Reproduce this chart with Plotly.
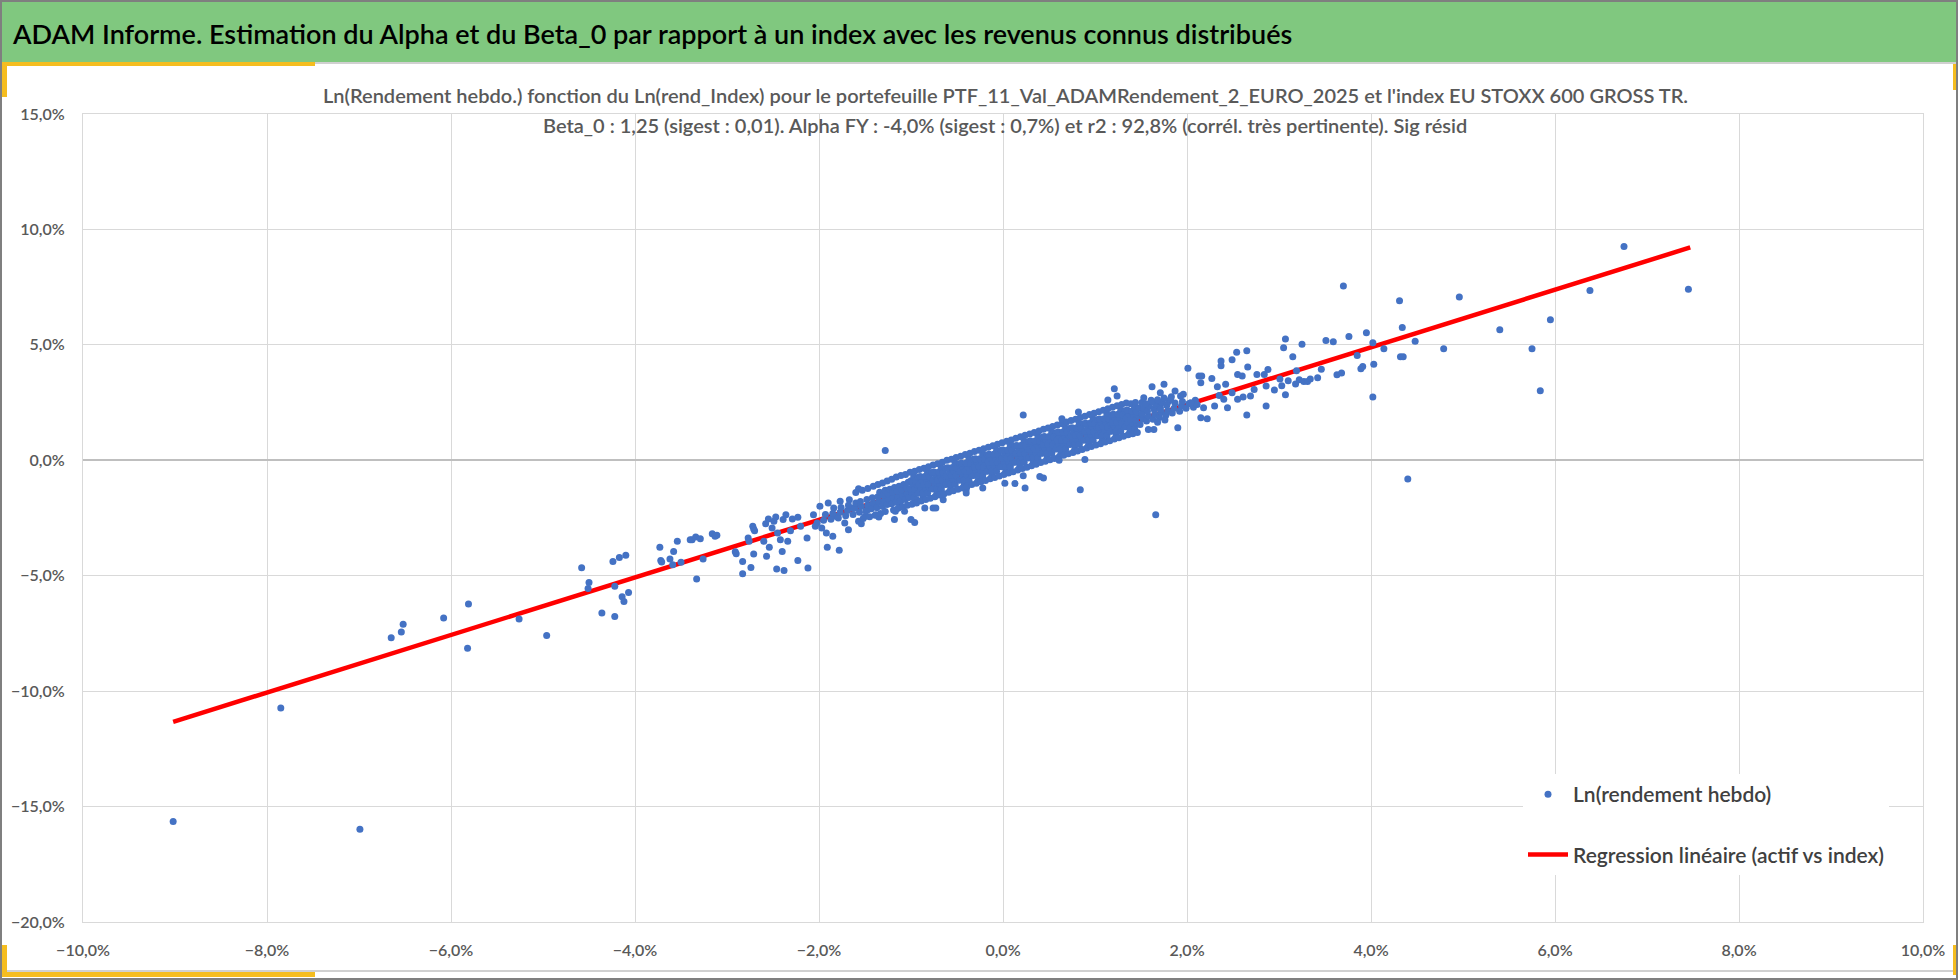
import plotly.graph_objects as go

# Weekly log returns (%) : index (x) vs portfolio (y)
# sparse points, left tail
tail_left = [
    (-9.02, -15.65), (-6.99, -15.98), (-7.85, -10.73), (-6.65, -7.69), (-6.54, -7.44),
    (-6.52, -7.10), (-6.08, -6.83), (-5.81, -6.22), (-5.82, -8.14), (-5.26, -6.87),
    (-4.96, -7.59), (-4.58, -4.65), (-4.50, -5.29), (-4.51, -5.55), (-4.36, -6.61),
    (-4.22, -6.77), (-4.24, -4.38), (-4.17, -4.21), (-4.10, -4.11), (-4.22, -5.46),
    (-4.14, -5.91), (-4.12, -6.12), (-4.07, -5.73),
]

# sparse points between -4% and the dense cloud
mid_left = [
    (-3.73, -3.77), (-3.72, -4.34), (-3.71, -4.41), (-3.62, -4.28), (-3.59, -4.52),
    (-3.58, -3.95), (-3.54, -3.51), (-3.50, -4.42), (-3.40, -3.44), (-3.38, -3.44),
    (-3.34, -3.32), (-3.29, -3.40), (-3.33, -5.14), (-3.26, -4.28), (-3.16, -3.18),
    (-3.13, -3.29), (-3.11, -3.25), (-2.91, -3.96), (-2.90, -4.05), (-2.83, -4.38),
    (-2.83, -4.91), (-2.77, -3.37), (-2.76, -3.51), (-2.74, -4.64), (-2.72, -2.86),
    (-2.71, -2.98), (-2.70, -3.05), (-2.71, -4.06), (-2.60, -3.51), (-2.58, -2.75),
    (-2.57, -4.16), (-2.55, -2.54), (-2.54, -3.77), (-2.51, -2.93), (-2.49, -2.64),
    (-2.47, -2.46), (-2.46, -4.71), (-2.45, -3.15), (-2.42, -3.44), (-2.40, -3.95),
    (-2.39, -2.57), (-2.38, -4.77), (-2.36, -2.36), (-2.34, -3.51), (-2.31, -3.05),
    (-2.29, -2.54), (-2.23, -4.34), (-2.23, -2.47), (-2.20, -2.86), (-2.13, -3.37),
    (-2.12, -4.67), (-2.06, -2.36), (-2.04, -2.86), (-2.02, -2.72), (-1.99, -1.99),
    (-1.97, -2.93), (-1.92, -3.15), (-1.91, -3.77), (-1.90, -1.85), (-1.85, -3.29),
    (-1.84, -2.07), (-1.81, -2.43), (-1.78, -3.90), (-1.77, -1.77), (-1.72, -2.72),
    (-1.68, -3.01), (-1.67, -1.71), (-1.63, -2.07), (-1.57, -1.23), (-1.57, -2.64),
    (-1.54, -2.75), (-1.50, -2.43), (-1.47, -2.14), (-1.40, -1.99), (-1.38, -2.36),
    (-1.35, -2.46), (-1.28, 0.42), (-1.27, -1.71), (-1.18, -2.57), (-1.17, -2.21),
    (-1.12, -1.85), (-1.07, -2.21), (-1.00, -2.57), (-0.96, -2.69), (-0.94, -1.71),
    (-0.85, -2.07), (-0.84, -0.36), (-0.76, -2.07), (-0.73, -2.07), (-0.65, -1.71),
    (-0.61, -0.84), (-0.40, -1.27), (-0.22, -1.20), (-0.40, -1.42),
]

# dense cloud around the regression line
core = [
    (-1.95, -2.60), (-1.93, -2.35), (-1.87, -2.55), (-1.85, -2.30),
    (-1.79, -2.50), (-1.77, -2.25), (-1.76, -2.05), (-1.71, -2.40), (-1.69, -2.18), (-1.68, -1.95),
    (-1.63, -2.35), (-1.61, -2.08), (-1.60, -1.85), (-1.56, -2.25), (-1.54, -2.00), (-1.55, -1.78),
    (-1.49, -2.20), (-1.47, -1.95), (-1.48, -1.70), (-1.43, -2.10), (-1.41, -1.85), (-1.42, -1.62),
    (-1.37, -2.05), (-1.35, -1.80), (-1.36, -1.58), (-1.34, -1.38),
    (-1.31, -2.00), (-1.29, -1.75), (-1.30, -1.52), (-1.28, -1.30),
    (-1.26, -1.92), (-1.24, -1.68), (-1.25, -1.45), (-1.23, -1.25),
    (-1.21, -1.88), (-1.19, -1.62), (-1.20, -1.40), (-1.18, -1.18),
    (-1.16, -1.82), (-1.14, -1.58), (-1.15, -1.35), (-1.13, -1.12),
    (-1.11, -1.75), (-1.09, -1.50), (-1.10, -1.28), (-1.08, -1.05),
    (-1.06, -1.70), (-1.04, -1.45), (-1.05, -1.20), (-1.03, -0.95),
    (-1.02, -1.61), (-0.99, -1.41), (-1.01, -1.23), (-0.98, -1.06), (-1.00, -0.89), (-0.97, -0.71),
    (-0.97, -1.63), (-0.94, -1.43), (-0.96, -1.25), (-0.93, -1.07), (-0.95, -0.91), (-0.92, -0.73),
    (-0.92, -1.43), (-0.89, -1.23), (-0.91, -1.05), (-0.88, -0.88), (-0.90, -0.70), (-0.87, -1.63),
    (-0.87, -1.42), (-0.84, -1.22), (-0.86, -1.04), (-0.83, -0.87), (-0.85, -0.70), (-0.82, -0.52),
    (-0.82, -1.43), (-0.79, -1.23), (-0.81, -1.05), (-0.78, -0.87), (-0.80, -0.71), (-0.77, -0.53),
    (-0.77, -1.24), (-0.74, -1.04), (-0.76, -0.86), (-0.73, -0.69), (-0.75, -0.51), (-0.72, -1.44),
    (-0.72, -1.23), (-0.69, -1.03), (-0.71, -0.85), (-0.68, -0.68), (-0.70, -0.51), (-0.67, -0.33),
    (-0.67, -1.24), (-0.64, -1.04), (-0.66, -0.86), (-0.63, -0.68), (-0.65, -0.52), (-0.62, -0.34),
    (-0.62, -1.05), (-0.59, -0.85), (-0.61, -0.67), (-0.58, -0.50), (-0.60, -0.32), (-0.57, -1.25),
    (-0.57, -1.03), (-0.54, -0.83), (-0.56, -0.65), (-0.53, -0.48), (-0.55, -0.31), (-0.52, -0.13),
    (-0.52, -1.05), (-0.49, -0.85), (-0.51, -0.67), (-0.48, -0.49), (-0.50, -0.33), (-0.47, -0.15),
    (-0.47, -0.86), (-0.44, -0.66), (-0.46, -0.48), (-0.43, -0.31), (-0.45, -0.13), (-0.42, -1.06),
    (-0.42, -0.84), (-0.39, -0.64), (-0.41, -0.46), (-0.38, -0.29), (-0.40, -0.12), (-0.37, 0.06),
    (-0.37, -0.86), (-0.34, -0.66), (-0.36, -0.48), (-0.33, -0.30), (-0.35, -0.14), (-0.32, 0.04),
    (-0.32, -0.66), (-0.29, -0.46), (-0.31, -0.28), (-0.28, -0.11), (-0.30, 0.07), (-0.27, -0.86),
    (-0.27, -0.65), (-0.24, -0.45), (-0.26, -0.27), (-0.23, -0.10), (-0.25, 0.07), (-0.22, 0.25),
    (-0.22, -0.67), (-0.19, -0.47), (-0.21, -0.29), (-0.18, -0.11), (-0.20, 0.05), (-0.17, 0.23),
    (-0.17, -0.47), (-0.14, -0.27), (-0.16, -0.09), (-0.13, 0.08), (-0.15, 0.26), (-0.12, -0.67),
    (-0.12, -0.46), (-0.09, -0.26), (-0.11, -0.08), (-0.08, 0.09), (-0.10, 0.26), (-0.07, 0.44),
    (-0.07, -0.47), (-0.04, -0.27), (-0.06, -0.09), (-0.03, 0.09), (-0.05, 0.25), (-0.02, 0.43),
    (-0.02, -0.28), (0.01, -0.08), (-0.01, 0.10), (0.02, 0.27), (0.00, 0.45), (0.03, -0.48),
    (0.03, -0.27), (0.06, -0.07), (0.04, 0.11), (0.07, 0.28), (0.05, 0.45), (0.08, 0.63),
    (0.08, -0.28), (0.11, -0.08), (0.09, 0.10), (0.12, 0.28), (0.10, 0.44), (0.13, 0.62),
    (0.13, -0.09), (0.16, 0.11), (0.14, 0.29), (0.17, 0.46), (0.15, 0.64), (0.18, -0.29),
    (0.18, -0.07), (0.21, 0.13), (0.19, 0.31), (0.22, 0.48), (0.20, 0.65), (0.23, 0.83),
    (0.23, -0.09), (0.26, 0.11), (0.24, 0.29), (0.27, 0.47), (0.25, 0.63), (0.28, 0.81),
    (0.28, 0.10), (0.31, 0.30), (0.29, 0.48), (0.32, 0.65), (0.30, 0.83), (0.33, -0.10),
    (0.33, 0.12), (0.36, 0.32), (0.34, 0.50), (0.37, 0.67), (0.35, 0.84), (0.38, 1.02),
    (0.38, 0.10), (0.41, 0.30), (0.39, 0.48), (0.42, 0.66), (0.40, 0.82), (0.43, 1.00),
    (0.43, 0.30), (0.46, 0.50), (0.44, 0.68), (0.47, 0.85), (0.45, 1.03), (0.48, 0.10),
    (0.48, 0.31), (0.51, 0.51), (0.49, 0.69), (0.52, 0.86), (0.50, 1.03), (0.53, 1.21),
    (0.53, 0.29), (0.56, 0.49), (0.54, 0.67), (0.57, 0.85), (0.55, 1.01), (0.58, 1.19),
    (0.58, 0.49), (0.61, 0.69), (0.59, 0.87), (0.62, 1.04), (0.60, 1.22), (0.63, 0.29),
    (0.63, 0.50), (0.66, 0.70), (0.64, 0.88), (0.67, 1.05), (0.65, 1.22), (0.68, 1.40),
    (0.68, 0.49), (0.71, 0.69), (0.69, 0.87), (0.72, 1.05), (0.70, 1.21), (0.73, 1.39),
    (0.73, 0.68), (0.76, 0.88), (0.74, 1.06), (0.77, 1.23), (0.75, 1.41), (0.78, 0.48),
    (0.78, 0.69), (0.81, 0.89), (0.79, 1.07), (0.82, 1.24), (0.80, 1.41), (0.83, 1.59),
    (0.83, 0.68), (0.86, 0.88), (0.84, 1.06), (0.87, 1.24), (0.85, 1.40), (0.88, 1.58),
    (0.88, 0.87), (0.91, 1.07), (0.89, 1.25), (0.92, 1.42), (0.90, 1.60), (0.93, 0.67),
    (0.93, 0.89), (0.96, 1.09), (0.94, 1.27), (0.97, 1.44), (0.95, 1.61), (0.98, 1.79),
    (0.98, 0.87), (1.01, 1.07), (0.99, 1.25), (1.02, 1.43), (1.00, 1.59), (1.03, 1.77),
    (1.03, 1.06), (1.06, 1.26), (1.04, 1.44), (1.07, 1.61), (1.05, 1.79), (1.08, 0.86),
    (1.08, 1.08), (1.11, 1.28), (1.09, 1.46), (1.12, 1.63), (1.10, 1.80), (1.13, 1.98),
    (1.13, 1.06), (1.16, 1.26), (1.14, 1.44), (1.17, 1.62), (1.15, 1.78), (1.18, 1.96),
    (1.18, 1.26), (1.21, 1.46), (1.19, 1.64), (1.22, 1.81), (1.20, 1.99), (1.23, 1.06),
    (1.23, 1.27), (1.26, 1.47), (1.24, 1.65), (1.27, 1.82), (1.25, 1.99), (1.28, 2.17),
    (1.28, 1.25), (1.31, 1.45), (1.29, 1.63), (1.32, 1.81), (1.30, 1.97), (1.33, 2.15),
    (1.33, 1.45), (1.36, 1.65), (1.34, 1.83), (1.37, 2.00), (1.35, 2.18), (1.38, 1.25),
    (1.38, 1.40), (1.41, 1.60), (1.39, 1.78), (1.42, 1.95), (1.40, 2.12), (1.43, 2.30),
    (1.43, 1.37), (1.46, 1.57), (1.44, 1.75), (1.47, 1.93), (1.45, 2.09), (1.48, 2.27),
    (1.49, 1.55), (1.52, 1.80), (1.51, 2.02), (1.53, 2.25),
    (1.56, 1.70), (1.58, 1.92), (1.57, 2.12), (1.59, 2.35),
    (1.63, 1.78), (1.65, 2.00), (1.64, 2.22), (1.66, 2.42),
    (1.70, 1.85), (1.72, 2.08), (1.71, 2.30), (1.73, 2.50),
    (1.77, 1.95), (1.79, 2.15), (1.78, 2.38), (1.80, 2.55),
    (1.84, 2.05), (1.86, 2.25), (1.87, 2.48),
    (1.92, 2.12), (1.94, 2.35), (1.95, 2.55),
    (1.99, 2.25), (2.02, 2.45), (2.07, 2.30), (2.09, 2.60),
]

# outer fringe of the dense cloud (upper and lower edges)
fringe = [
    (-1.60, -1.40), (-1.53, -1.30), (-1.47, -1.22), (-1.41, -1.12), (-1.36, -1.05),
    (-1.31, -0.98), (-1.26, -0.90), (-1.52, -2.52), (-1.45, -2.45), (-1.39, -2.38),
    (-1.33, -2.30), (-1.28, -2.22),
    (-1.21, -0.82), (-1.19, -2.15), (-1.16, -0.72), (-1.14, -2.08), (-1.11, -0.66), (-1.09, -2.02),
    (-1.06, -0.62), (-1.04, -1.95), (-1.01, -0.52), (-0.99, -1.90), (-0.96, -0.48), (-0.94, -1.85),
    (-0.91, -0.40), (-0.89, -1.76), (-0.86, -0.35), (-0.84, -1.70), (-0.81, -0.28), (-0.79, -1.64),
    (-0.76, -0.20), (-0.74, -1.58), (-0.71, -0.15), (-0.69, -1.50), (-0.66, -0.08), (-0.64, -1.45),
    (-0.61, 0.00), (-0.59, -1.38), (-0.56, 0.05), (-0.54, -1.32), (-0.51, 0.12), (-0.49, -1.25),
    (-0.46, 0.18), (-0.44, -1.20), (-0.41, 0.25), (-0.39, -1.12), (-0.36, 0.30), (-0.34, -1.05),
    (-0.31, 0.38), (-0.29, -1.00), (-0.26, 0.44), (-0.24, -0.93), (-0.21, 0.50), (-0.19, -0.88),
    (-0.16, 0.56), (-0.14, -0.80), (-0.11, 0.63), (-0.09, -0.75), (-0.06, 0.70), (-0.04, -0.68),
    (-0.01, 0.76), (0.01, -0.62), (0.04, 0.82), (0.06, -0.55), (0.09, 0.88), (0.11, -0.50),
    (0.14, 0.95), (0.16, -0.42), (0.19, 1.02), (0.21, -0.36), (0.24, 1.08), (0.26, -0.30),
    (0.29, 1.14), (0.31, -0.24), (0.34, 1.20), (0.36, -0.17), (0.39, 1.27), (0.41, -0.10),
    (0.44, 1.34), (0.46, -0.04), (0.49, 1.40), (0.51, 0.02), (0.54, 1.46), (0.56, 0.08),
    (0.59, 1.53), (0.61, 0.15), (0.64, 1.58), (0.66, 0.22), (0.69, 1.66), (0.71, 0.28),
    (0.74, 1.72), (0.76, 0.34), (0.79, 1.78), (0.81, 0.40), (0.84, 1.85), (0.86, 0.47),
    (0.89, 1.91), (0.91, 0.53), (0.94, 1.98), (0.96, 0.60), (0.99, 2.04), (1.01, 0.66),
    (1.04, 2.10), (1.06, 0.72), (1.09, 2.17), (1.11, 0.79), (1.14, 2.23), (1.16, 0.85),
    (1.19, 2.30), (1.21, 0.92), (1.24, 2.36), (1.26, 0.98), (1.29, 2.42), (1.31, 1.04),
    (1.34, 2.48), (1.36, 1.11), (1.39, 2.45), (1.41, 1.15), (1.44, 2.50), (1.46, 1.20),
    (1.51, 2.50), (1.61, 2.60), (1.55, 2.45), (1.62, 2.55), (1.68, 2.62), (1.75, 2.70),
    (1.83, 2.75), (1.68, 1.65), (1.76, 1.75),
]

# sparse points, right of the dense cloud
mid_right = [
    (0.22, 1.96), (0.84, -1.28), (1.66, -2.36), (0.89, 0.03), (1.21, 3.10), (1.14, 2.61),
    (1.24, 2.78), (0.82, 2.09), (0.64, 1.80), (1.62, 3.19), (1.75, 3.29), (2.01, 3.99),
    (2.13, 3.65), (2.16, 3.65), (2.27, 3.54), (2.37, 4.30), (2.37, 4.09), (2.49, 4.36),
    (2.54, 4.68), (2.65, 4.75), (2.66, 4.04), (2.55, 3.72), (2.60, 3.65), (2.76, 3.72),
    (2.84, 3.72), (2.88, 3.93), (2.95, 3.04), (2.86, 3.22), (2.86, 2.35), (2.65, 1.96),
    (2.73, 3.07), (2.69, 2.78), (2.61, 2.74), (2.55, 2.64), (2.49, 2.93), (2.44, 2.28),
    (2.40, 2.64), (2.35, 2.81), (2.30, 2.35), (2.22, 1.80), (2.15, 1.84), (2.18, 2.28),
    (2.11, 2.42), (2.04, 2.49), (1.96, 2.86), (1.93, 2.78), (1.87, 3.00), (1.82, 2.64),
    (1.90, 1.41), (1.71, 2.20), (1.64, 1.33), (1.58, 1.33), (1.53, 2.71), (1.71, 2.93),
    (2.15, 3.36), (2.42, 3.29), (2.33, 3.19), (0.02, -0.99), (0.13, -1.01), (0.24, -1.20),
    (0.40, -0.70), (0.44, -0.77), (0.22, -0.67), (0.61, 0.00),
    (3.70, 7.55), (3.07, 5.25), (3.05, 4.87), (3.15, 4.49), (3.25, 5.03), (3.19, 3.88),
    (3.10, 3.45), (3.01, 3.52), (3.03, 3.23), (3.07, 2.84), (3.18, 3.30), (3.22, 3.49),
    (3.27, 3.41), (3.31, 3.41), (3.34, 3.52), (3.42, 3.57), (3.46, 3.94), (3.51, 5.19),
    (3.59, 5.14), (3.63, 3.71), (3.68, 3.78), (3.76, 5.36), (3.85, 4.54), (3.89, 3.96),
    (3.91, 4.06), (3.95, 5.52), (4.02, 5.09), (4.03, 4.16), (4.02, 2.74),
]

# sparse points, right tail
tail_right = [
    (6.75, 9.26), (7.45, 7.41), (6.38, 7.35), (5.95, 6.09), (5.84, 3.01), (5.75, 4.83),
    (5.40, 5.65), (4.96, 7.07), (4.79, 4.83), (4.48, 5.16), (4.31, 6.91), (4.34, 5.75),
    (4.32, 4.49), (4.35, 4.49), (4.14, 4.83), (4.40, -0.81),
]

# regression line end points (%)
reg_x = [-9.02, 7.47]
reg_y = [-11.33, 9.22]

points = tail_left + mid_left + core + fringe + mid_right + tail_right
idx_ret = [p[0] for p in points]
ptf_ret = [p[1] for p in points]

W, H = 1958, 980
L, R, T, B = 83, 1923, 114, 922   # plot area in pixels

FONT = "Lato, Roboto, sans-serif"


def px(xp):
    return (xp - L) / (R - L)


def py(yp):
    return (B - yp) / (B - T)


def box(x0, y0, x1, y1, color):
    return dict(type="rect", xref="paper", yref="paper", layer="below",
                x0=px(x0), x1=px(x1), y0=py(y1), y1=py(y0),
                fillcolor=color, line=dict(width=0))


fig = go.Figure()

fig.add_trace(go.Scatter(
    x=reg_x, y=reg_y, mode="lines",
    name="Regression linéaire (actif vs index)",
    line=dict(color="#ff0000", width=4.5),
    legendgroup="b", legendrank=2,
))
fig.add_trace(go.Scatter(
    x=idx_ret, y=ptf_ret, mode="markers",
    name="Ln(rendement hebdo)",
    marker=dict(color="#4472c4", size=7),
    legendgroup="a", legendrank=1,
))

shapes = [
    box(2, 2, 1956, 62, "#80c87f"),
    box(0, 62, 1958, 64, "#d0d0d0"),
    box(0, 62, 315, 66, "#f5bd1f"),
    box(0, 62, 7, 97, "#f5bd1f"),
    box(0, 970, 1958, 972, "#d0d0d0"),
    box(0, 972, 315, 977, "#f5bd1f"),
    box(0, 945, 7, 977, "#f5bd1f"),
    box(1953, 64, 1956, 90, "#f5bd1f"),
    box(1953, 945, 1956, 975, "#f5bd1f"),
    dict(type="rect", xref="paper", yref="paper", layer="above",
         x0=px(1), x1=px(1957), y0=py(979), y1=py(1),
         line=dict(color="#7f7f7f", width=2)),
]

annotations = [
    dict(text="ADAM Informe. Estimation du Alpha et du Beta_0 par rapport à un index avec les revenus connus distribués",
         xref="paper", yref="paper", x=px(10), y=py(33), xanchor="left", yanchor="middle",
         showarrow=False, font=dict(family=FONT, size=27, weight=600, color="#000000")),
    dict(text="Ln(Rendement hebdo.) fonction du Ln(rend_Index) pour le portefeuille PTF_11_Val_ADAMRendement_2_EURO_2025 et l'index EU STOXX 600 GROSS TR.",
         xref="paper", yref="paper", x=px(1005), y=py(95), xanchor="center", yanchor="middle",
         showarrow=False, font=dict(family=FONT, size=20, weight=600, color="#595959")),
    dict(text="Beta_0 : 1,25 (sigest : 0,01). Alpha FY : -4,0% (sigest : 0,7%) et r2 : 92,8% (corrél. très pertinente). Sig résid",
         xref="paper", yref="paper", x=px(1005), y=py(125), xanchor="center", yanchor="middle",
         showarrow=False, font=dict(family=FONT, size=20, weight=600, color="#595959")),
]

axis_common = dict(
    showgrid=True, gridcolor="#d9d9d9", gridwidth=1,
    showline=True, linecolor="#d9d9d9", linewidth=1, mirror=True,
    ticks="", ticksuffix="%", tickformat=".1f",
    tickfont=dict(family=FONT, size=16, weight=600, color="#595959"),
)

fig.update_layout(
    width=W, height=H,
    margin=dict(l=L, r=W - R, t=T, b=H - B),
    paper_bgcolor="white", plot_bgcolor="white",
    separators=", ",
    xaxis=dict(range=[-10, 10], dtick=2, ticklabelstandoff=14, zeroline=False, **axis_common),
    yaxis=dict(range=[-20, 15], dtick=5, ticklabelstandoff=14,
               zeroline=True, zerolinecolor="#bfbfbf", zerolinewidth=1.5, **axis_common),
    showlegend=True,
    legend=dict(x=px(1523), y=py(774), xanchor="left", yanchor="top",
                bgcolor="white", borderwidth=0, traceorder="grouped",
                tracegroupgap=30, itemwidth=40,
                font=dict(family=FONT, size=21, weight=600, color="#404040")),
    shapes=shapes,
    annotations=annotations,
)

# page margin off, so the figure sits at the window's top-left corner
fig.write_html("out.html", config={"displayModeBar": False},
               post_script="document.body.style.margin='0';")
